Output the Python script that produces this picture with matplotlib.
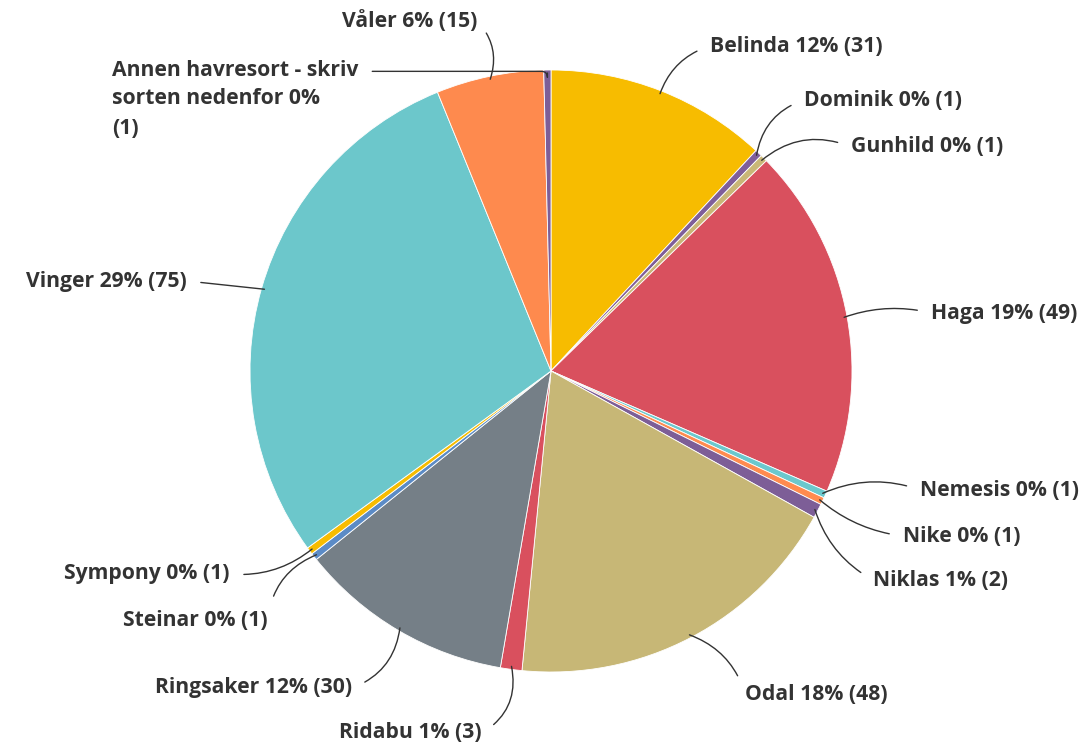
import numpy as np
import matplotlib.pyplot as plt

# survey answers, clockwise from 12 o'clock
names = ["Belinda", "Dominik", "Gunhild", "Haga", "Nemesis", "Nike", "Niklas",
         "Odal", "Ridabu", "Ringsaker", "Steinar", "Sympony", "Vinger", "Våler",
         "Annen havresort - skriv\nsorten nedenfor"]
counts = [31, 1, 1, 49, 1, 1, 2, 48, 3, 30, 1, 1, 75, 15, 1]
pct_text = ["12%", "0%", "0%", "19%", "0%", "0%", "1%", "18%", "1%", "12%",
            "0%", "0%", "29%", "6%", "0%"]

colors = ["#F7BC00", "#7F5E9A", "#C9B777", "#D9505E", "#6BC8CD", "#FF8B4F",
          "#7D5E97", "#C7B776", "#D9505E", "#757F87", "#5B8BC6", "#F7BC00",
          "#6CC7CB", "#FE8A4E", "#7D5E97"]

# label anchor (x, y from top in px), alignment, leader line style
label_pos = [(710, 46, "left", "arc3,rad=0.25"), (804, 100, "left", "arc3,rad=0.3"),
             (851, 147, "left", "arc3,rad=0.3"), (931, 313, "left", "arc3,rad=0.15"),
             (920, 490, "left", "arc3,rad=0.2"), (903, 536, "left", "arc3,rad=-0.15"),
             (873, 580, "left", "arc3,rad=-0.2"), (745, 694, "left", "arc3,rad=0.25"),
             (482, 733, "right", "arc3,rad=0.35"), (352, 688, "right", "arc3,rad=0.3"),
             (268, 620, "right", "arc3,rad=-0.3"), (230, 574, "right", "arc3,rad=0.2"),
             (187, 281, "right", "arc3,rad=0.0"), (477, 21, "right", "arc3,rad=-0.3"),
             (112, 99, "left", "angle,angleA=0,angleB=90,rad=6")]

W, H = 1090, 746
cx, cy, R = 551, H - 371, 301

plt.rcParams['font.family'] = ['Open Sans', 'DejaVu Sans']

fig = plt.figure(figsize=(W / 100, H / 100), dpi=100)
ax = fig.add_axes([0, 0, 1, 1])

wedges, _ = ax.pie(counts, colors=colors, startangle=90, counterclock=False,
                   center=(cx, cy), radius=R, frame=True,
                   wedgeprops=dict(edgecolor='white', linewidth=0.6))
ax.set_xlim(0, W)
ax.set_ylim(0, H)
ax.set_aspect('equal')
ax.axis('off')

for w, name, n, p, (lx, ly, ha, conn) in zip(wedges, names, counts, pct_text, label_pos):
    mid = np.deg2rad((w.theta1 + w.theta2) / 2)
    ex = cx + R * 0.99 * np.cos(mid)
    ey = cy + R * 0.99 * np.sin(mid)
    txt = f"{name} {p} ({n})"
    if "\n" in name:
        txt = "Annen havresort - skriv\nsorten nedenfor 0%\n(1)"
        relpos = (1, 0.85)
    else:
        relpos = (0, 0.5) if ha == "left" else (1, 0.5)
    ax.annotate(txt, xy=(ex, ey), xytext=(lx, H - ly), ha=ha, va='center',
                fontsize=15.2, fontweight='bold', color='#333333', linespacing=1.5,
                arrowprops=dict(arrowstyle='-', color='#333333', lw=1.0,
                                connectionstyle=conn,
                                relpos=relpos, shrinkA=8, shrinkB=0))

fig.savefig("out.png", dpi=100, facecolor='white')
